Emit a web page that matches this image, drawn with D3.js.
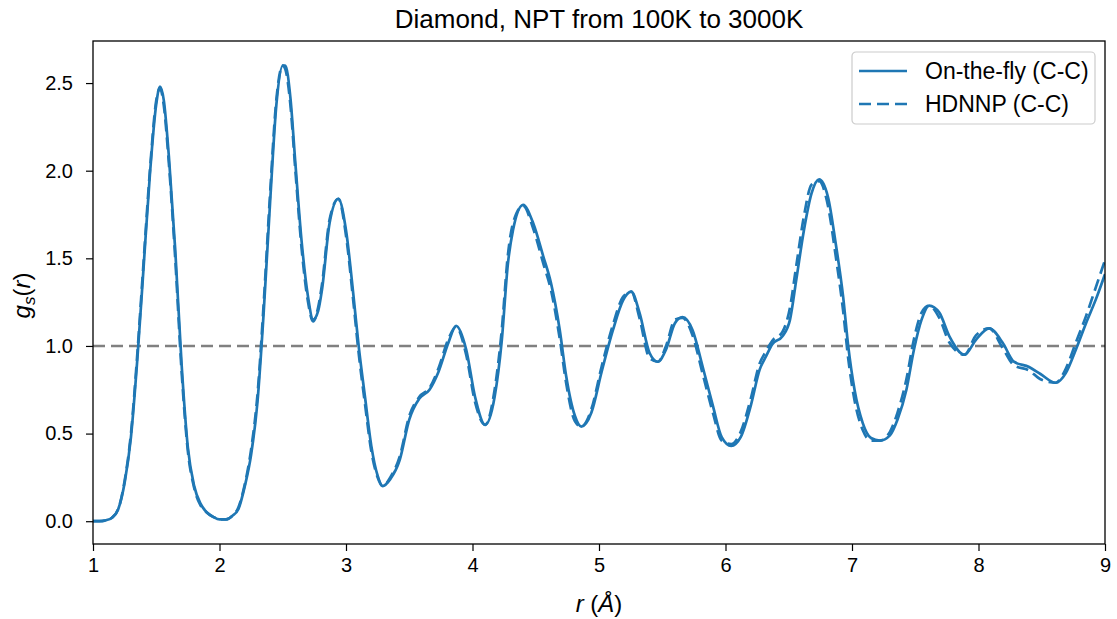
<!DOCTYPE html>
<html>
<head>
<meta charset="utf-8">
<script src="https://cdn.jsdelivr.net/npm/d3@7"></script>
<style>
  body { margin: 0; background: #fff; }
  text { font-family: "Liberation Sans", Arial, sans-serif; fill: #000; }
</style>
</head>
<body>
<div id="chart"></div>
<script>
// r grid (Å), shared by both curves
const rValues = [
  1.00, 1.05, 1.10, 1.15, 1.20, 1.25, 1.30, 1.35, 1.40, 1.45, 1.50, 1.53, 1.56, 1.60, 1.65, 1.70, 1.75, 1.80, 1.85, 1.90,
  1.95, 2.00, 2.05, 2.10, 2.15, 2.20, 2.25, 2.30, 2.35, 2.40, 2.45, 2.50, 2.52, 2.56, 2.60, 2.65, 2.70, 2.74, 2.78, 2.81,
  2.87, 2.94, 3.00, 3.06, 3.10, 3.15, 3.20, 3.25, 3.29, 3.35, 3.425, 3.50, 3.58, 3.66, 3.73, 3.81, 3.87, 3.95, 4.02, 4.10,
  4.175, 4.23, 4.28, 4.32, 4.40, 4.48, 4.56, 4.62, 4.69, 4.74, 4.81, 4.86, 4.94, 5.02, 5.11, 5.19, 5.255, 5.32, 5.40, 5.465,
  5.53, 5.60, 5.66, 5.74, 5.82, 5.90, 5.97, 6.045, 6.12, 6.20, 6.27, 6.32, 6.37, 6.45, 6.51, 6.56, 6.62, 6.68, 6.74, 6.81,
  6.87, 6.93, 6.97, 7.02, 7.085, 7.15, 7.22, 7.30, 7.36, 7.43, 7.49, 7.55, 7.61, 7.69, 7.77, 7.89, 7.98, 8.085, 8.19, 8.28,
  8.40, 8.49, 8.61, 8.69, 8.77, 8.85, 8.93, 9.00
];

// On-the-fly (C-C), solid
const onTheFly = [
  0.00, 0.00, 0.005, 0.02, 0.07, 0.22, 0.48, 0.92, 1.45, 1.98, 2.38, 2.48, 2.40, 2.08, 1.55, 0.90, 0.42, 0.20, 0.10, 0.05,
  0.025, 0.01, 0.01, 0.03, 0.07, 0.20, 0.38, 0.68, 1.20, 1.82, 2.38, 2.60, 2.60, 2.42, 2.04, 1.59, 1.28, 1.15, 1.20, 1.32,
  1.70, 1.84, 1.66, 1.28, 1.00, 0.71, 0.43, 0.26, 0.20, 0.24, 0.35, 0.58, 0.70, 0.75, 0.85, 1.02, 1.115, 0.98, 0.71, 0.55,
  0.71, 1.02, 1.47, 1.66, 1.805, 1.70, 1.51, 1.36, 1.09, 0.83, 0.60, 0.54, 0.62, 0.85, 1.09, 1.26, 1.31, 1.19, 0.96, 0.91,
  0.98, 1.13, 1.165, 1.09, 0.88, 0.66, 0.48, 0.43, 0.48, 0.66, 0.865, 0.94, 1.01, 1.055, 1.15, 1.38, 1.66, 1.87, 1.95, 1.85,
  1.59, 1.28, 1.00, 0.75, 0.56, 0.475, 0.46, 0.49, 0.58, 0.75, 0.98, 1.15, 1.23, 1.19, 1.055, 0.95, 1.035, 1.10, 1.02, 0.91,
  0.88, 0.84, 0.79, 0.845, 0.98, 1.13, 1.27, 1.41
];

// HDNNP (C-C), dashed
const hdnnp = [
  0.00, 0.00, 0.005, 0.02, 0.07, 0.23, 0.50, 0.95, 1.48, 2.00, 2.40, 2.47, 2.37, 2.04, 1.50, 0.86, 0.40, 0.19, 0.09, 0.05,
  0.025, 0.01, 0.01, 0.03, 0.08, 0.21, 0.41, 0.72, 1.25, 1.87, 2.41, 2.60, 2.58, 2.38, 2.00, 1.55, 1.25, 1.14, 1.22, 1.35,
  1.72, 1.84, 1.63, 1.24, 0.96, 0.67, 0.40, 0.25, 0.20, 0.25, 0.37, 0.60, 0.71, 0.76, 0.87, 1.04, 1.11, 0.95, 0.68, 0.55,
  0.75, 1.08, 1.52, 1.70, 1.80, 1.67, 1.47, 1.32, 1.04, 0.79, 0.57, 0.54, 0.64, 0.88, 1.12, 1.28, 1.31, 1.16, 0.93, 0.91,
  1.00, 1.15, 1.16, 1.06, 0.84, 0.62, 0.46, 0.44, 0.51, 0.70, 0.90, 0.97, 1.03, 1.08, 1.22, 1.46, 1.74, 1.92, 1.94, 1.80,
  1.52, 1.20, 0.93, 0.69, 0.52, 0.46, 0.46, 0.51, 0.62, 0.81, 1.04, 1.19, 1.23, 1.16, 1.02, 0.95, 1.06, 1.10, 0.99, 0.89,
  0.86, 0.81, 0.79, 0.87, 1.02, 1.17, 1.34, 1.49
];

const xTicks = [1, 2, 3, 4, 5, 6, 7, 8, 9];
const yTicks = [0.0, 0.5, 1.0, 1.5, 2.0, 2.5];
const legendLabels = ["On-the-fly (C-C)", "HDNNP (C-C)"];

const W = 1117, H = 619;
const margin = { top: 41, right: 12, bottom: 75, left: 93 };
const width = W - margin.left - margin.right,
    height = H - margin.top - margin.bottom;
const blue = "#1f77b4";
const dash = "12,6";

const svg = d3.select("#chart").append("svg")
    .attr("width", W)
    .attr("height", H);

const chart = svg.append("g")
    .attr("transform", `translate(${margin.left},${margin.top})`);

const x = d3.scaleLinear().domain([1, 9]).range([0, width]);
const y = d3.scaleLinear().domain([-0.13, 2.74]).range([height, 0]);

chart.append("defs").append("clipPath").attr("id", "clip")
    .append("rect").attr("width", width).attr("height", height);

const plot = chart.append("g").attr("clip-path", "url(#clip)");

// reference line g = 1
plot.append("line")
    .attr("x1", x(1)).attr("x2", x(9))
    .attr("y1", y(1)).attr("y2", y(1))
    .attr("stroke", "#808080")
    .attr("stroke-width", 2.4)
    .attr("stroke-dasharray", dash);

const line = d3.line()
    .x((d, i) => x(rValues[i]))
    .y(d => y(d))
    .curve(d3.curveMonotoneX);

plot.append("path")
    .datum(onTheFly)
    .attr("d", line)
    .attr("fill", "none")
    .attr("stroke", blue)
    .attr("stroke-width", 2.7);

plot.append("path")
    .datum(hdnnp)
    .attr("d", line)
    .attr("fill", "none")
    .attr("stroke", blue)
    .attr("stroke-width", 2.7)
    .attr("stroke-dasharray", dash);

// axes
const xAxis = chart.append("g")
    .attr("transform", `translate(0,${height})`)
    .call(d3.axisBottom(x).tickValues(xTicks).tickFormat(d3.format("d")).tickSizeOuter(0).tickSize(7).tickPadding(7));
const yAxis = chart.append("g")
    .call(d3.axisLeft(y).tickValues(yTicks).tickFormat(d3.format(".1f")).tickSizeOuter(0).tickSize(7).tickPadding(13));

[xAxis, yAxis].forEach(a => {
    a.select(".domain").remove();
    a.selectAll("line").attr("stroke", "#000").attr("stroke-width", 1.2);
    a.selectAll("text").style("font-size", "20px").attr("fill", "#000");
});

// frame
chart.append("rect")
    .attr("width", width).attr("height", height)
    .attr("fill", "none")
    .attr("stroke", "#000")
    .attr("stroke-width", 1.3);

// title and labels
svg.append("text")
    .attr("x", margin.left + width / 2)
    .attr("y", 28)
    .attr("text-anchor", "middle")
    .style("font-size", "26px")
    .text("Diamond, NPT from 100K to 3000K");

const xl = svg.append("text")
    .attr("x", margin.left + width / 2)
    .attr("y", 612)
    .attr("text-anchor", "middle")
    .style("font-size", "24px");
xl.append("tspan").style("font-style", "italic").text("r");
xl.append("tspan").text(" (");
xl.append("tspan").style("font-style", "italic").text("Å");
xl.append("tspan").text(")");

const yl = svg.append("text")
    .attr("transform", `translate(30,${margin.top + height / 2 + 3}) rotate(-90)`)
    .attr("text-anchor", "middle")
    .style("font-size", "24px");
yl.append("tspan").style("font-style", "italic").text("g");
yl.append("tspan").style("font-style", "italic").style("font-size", "17px").attr("dy", 5).text("s");
yl.append("tspan").attr("dy", -5).text("(");
yl.append("tspan").style("font-style", "italic").text("r");
yl.append("tspan").text(")");

// legend
const legend = svg.append("g").attr("transform", "translate(852,52)");
legend.append("rect")
    .attr("width", 243).attr("height", 72)
    .attr("rx", 4)
    .attr("fill", "#fff").attr("fill-opacity", 0.8)
    .attr("stroke", "#ccc").attr("stroke-width", 1.2);

legendLabels.forEach((label, i) => {
    const ly = 19 + i * 33;
    legend.append("line")
        .attr("x1", 7).attr("x2", 55)
        .attr("y1", ly).attr("y2", ly)
        .attr("stroke", blue)
        .attr("stroke-width", 2.7)
        .attr("stroke-dasharray", i === 1 ? dash : null);
    legend.append("text")
        .attr("x", 73).attr("y", ly + 8)
        .style("font-size", "23px")
        .text(label);
});
</script>
</body>
</html>
